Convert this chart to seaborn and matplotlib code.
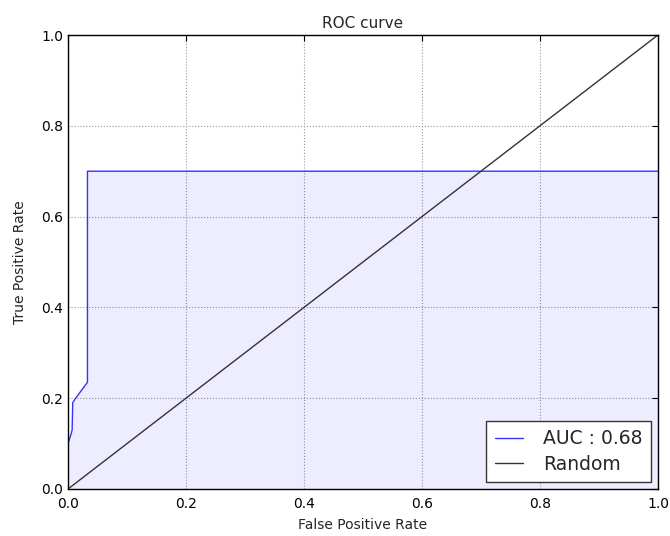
import matplotlib
matplotlib.use("Agg")
import matplotlib.pyplot as plt
import seaborn as sns
import pandas as pd

fpr = [0.0, 0.0, 0.005, 0.007, 0.008, 0.013, 0.033, 0.033, 1.0]
tpr = [0.0, 0.10, 0.12, 0.13, 0.19, 0.20, 0.235, 0.70, 0.70]
auc_label = "AUC : 0.68"
rand_x = [0.0, 1.0]
rand_y = [0.0, 1.0]

sns.set_style("white")
plt.rcParams['font.family'] = ['DejaVu Sans']

fig = plt.figure(figsize=(6.7, 5.36), dpi=100)
ax = fig.add_axes([0.1015, 0.0877, 0.8805, 0.847])

roc_df = pd.DataFrame({"fpr": fpr, "tpr": tpr})
rand_df = pd.DataFrame({"x": rand_x, "y": rand_y})

ax.fill_between(fpr, tpr, 0, color="#0000ff", alpha=0.07, linewidth=0)
sns.lineplot(data=roc_df, x="fpr", y="tpr", sort=False, estimator=None, ax=ax,
             color="#3333ff", linewidth=1.0, label=auc_label)
sns.lineplot(data=rand_df, x="x", y="y", sort=False, estimator=None, ax=ax,
             color="#333333", linewidth=1.0, label="Random")

ax.set_xlim(0, 1)
ax.set_ylim(0, 1)
ax.set_xticks([0, 0.2, 0.4, 0.6, 0.8, 1.0])
ax.set_yticks([0, 0.2, 0.4, 0.6, 0.8, 1.0])
ax.set_xlabel("False Positive Rate", fontsize=10, labelpad=5)
ax.set_ylabel("True Positive Rate", fontsize=10, labelpad=10)
ax.set_title("ROC curve", fontsize=11, pad=5)
ax.grid(True, linestyle=":", color="#999999", linewidth=0.8)
for s in ax.spines.values():
    s.set_color("black")
    s.set_linewidth(1.0)
ax.tick_params(direction="in", top=True, right=True, length=4, labelsize=10, colors="black")
ax.tick_params(axis="x", pad=6)
leg = ax.legend(loc="lower right", fontsize=13.5, fancybox=False, framealpha=1,
                edgecolor="#333333", handlelength=1.5, handletextpad=1.1,
                borderpad=0.45, borderaxespad=0.35, labelspacing=0.35)
leg.get_frame().set_linewidth(1.0)

fig.savefig("out.png", dpi=100)
